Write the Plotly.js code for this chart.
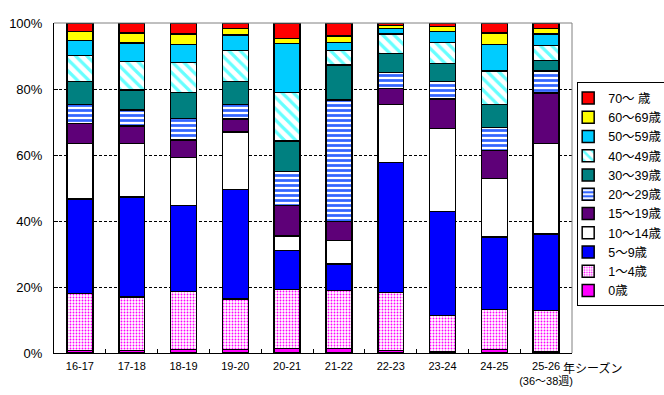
<!DOCTYPE html>
<html>
<head>
<meta charset="utf-8">
<script src="https://cdn.plot.ly/plotly-3.0.1.min.js"></script>
<style>html,body{margin:0;padding:0;background:#fff;}#chart{width:664px;height:395px;}</style>
</head>
<body>
<div id="chart"></div>
<script>
var seasons = ['16-17','17-18','18-19','19-20','20-21','21-22','22-23','23-24','24-25','25-26<br>(36～38週)'];
var yTickValues = [0, 20, 40, 60, 80, 100];
var yTickLabels = ['0%', '20%', '40%', '60%', '80%', '100%'];

var age0     = [0.8, 0.8, 1.1, 1.1, 1.4, 1.4, 0.8, 0.5, 1.1, 0.5];
var age1_4   = [17.2,16.1,17.6,15.2,17.9,17.6,17.6,10.9,12.1,12.4];
var age5_9   = [28.6,30.3,26.0,33.3,11.8, 7.9,39.4,31.5,21.9,23.1];
var age10_14 = [16.9,16.3,14.6,17.3, 4.4, 7.2,17.5,25.2,17.8,27.5];
var age15_19 = [ 6.1, 5.3, 5.2, 4.0, 9.2, 5.8, 4.9, 8.8, 8.5,15.3];
var age20_29 = [ 5.7, 4.8, 6.6, 4.4,10.3,36.7, 4.8, 5.4, 7.0, 6.6];
var age30_39 = [ 7.0, 6.1, 7.9, 7.0, 9.2,10.6, 5.8, 5.5, 6.9, 3.3];
var age40_49 = [ 7.9, 8.7, 9.1, 9.4,14.8, 4.5, 5.8, 6.3,10.1, 4.5];
var age50_59 = [ 4.5, 5.5, 5.4, 4.6,14.8, 2.4, 1.8, 3.4, 8.1, 3.4];
var age60_69 = [ 2.8, 3.0, 3.1, 2.0, 1.5, 1.9, 0.9, 1.5, 3.4, 1.8];
var age70    = [ 2.5, 3.1, 3.4, 1.7, 4.7, 4.0, 0.7, 1.0, 3.1, 1.6];

var groupNames = ['0歳','1～4歳','5～9歳','10～14歳','15～19歳','20～29歳','30～39歳','40～49歳','50～59歳','60～69歳','70～ 歳'];
var groupValues = [age0, age1_4, age5_9, age10_14, age15_19, age20_29, age30_39, age40_49, age50_59, age60_69, age70];
var groupColors = ['#FF00FF','#FFFFFF','#0000FF','#FFFFFF','#5E0078','#FFFFFF','#008080','#FFFFFF','#00CCFF','#FFFF00','#FF0000'];
var groupPatterns = [
  null,
  {shape:'.', fgcolor:'#FF00FF', bgcolor:'#FFFFFF', size:3, solidity:0.3},
  null, null, null,
  {shape:'-', fgcolor:'#3366FF', bgcolor:'#FFFFFF', size:5, solidity:0.55},
  null,
  {shape:'\\', fgcolor:'#66FFFF', bgcolor:'#FFFFFF', size:8, solidity:0.4},
  null, null, null
];

var font = 'Liberation Sans, Arial, Noto Sans CJK JP, sans-serif';

var traces = groupNames.map(function(name, i){
  var marker = {color: groupColors[i], line:{color:'#000000', width:1.5}};
  if (groupPatterns[i]) marker.pattern = groupPatterns[i];
  return {type:'bar', name:name, x:seasons, y:groupValues[i], marker:marker, hoverinfo:'name+y'};
});

var layout = {
  width:664, height:395,
  margin:{l:54, r:92, t:23, b:42, pad:0, autoexpand:false},
  paper_bgcolor:'#FFFFFF', plot_bgcolor:'#FFFFFF',
  barmode:'stack', bargap:0.5,
  font:{family:font, size:12, color:'#000000'},
  showlegend:true,
  legend:{traceorder:'reversed', x:1.01, xanchor:'left', y:0.82, yanchor:'top',
          bordercolor:'#000000', borderwidth:1, bgcolor:'#FFFFFF',
          font:{family:font, size:12.5}, indentation:-10, itemwidth:30},
  xaxis:{type:'category', showline:true, linecolor:'#000000', linewidth:1,
         ticks:'inside', tickson:'boundaries', ticklen:4, tickcolor:'#000000',
         showgrid:false, tickfont:{size:11}, tickangle:0, ticklabelstandoff:3,
         automargin:false, fixedrange:true},
  yaxis:{range:[0,100], tickmode:'array', tickvals:yTickValues, ticktext:yTickLabels,
         showline:true, linecolor:'#000000', linewidth:1,
         ticks:'inside', ticklen:4, tickcolor:'#000000',
         showgrid:true, gridcolor:'#000000', gridwidth:1, griddash:'3px,2px',
         zeroline:false, tickfont:{size:13}, ticklabelstandoff:8, automargin:false, fixedrange:true},
  shapes:[
    {type:'line', xref:'paper', yref:'paper', x0:0, x1:1, y0:1, y1:1, line:{color:'#808080', width:1}},
    {type:'line', xref:'paper', yref:'paper', x0:1, x1:1, y0:0, y1:1, line:{color:'#808080', width:1}}
  ],
  annotations:[
    {text:'年シーズン', xref:'paper', yref:'paper', x:0.979, y:-0.047, xanchor:'left', yanchor:'middle',
     showarrow:false, font:{family:font, size:12}}
  ]
};

Plotly.newPlot('chart', traces, layout, {displayModeBar:false, staticPlot:true});
</script>
</body>
</html>
